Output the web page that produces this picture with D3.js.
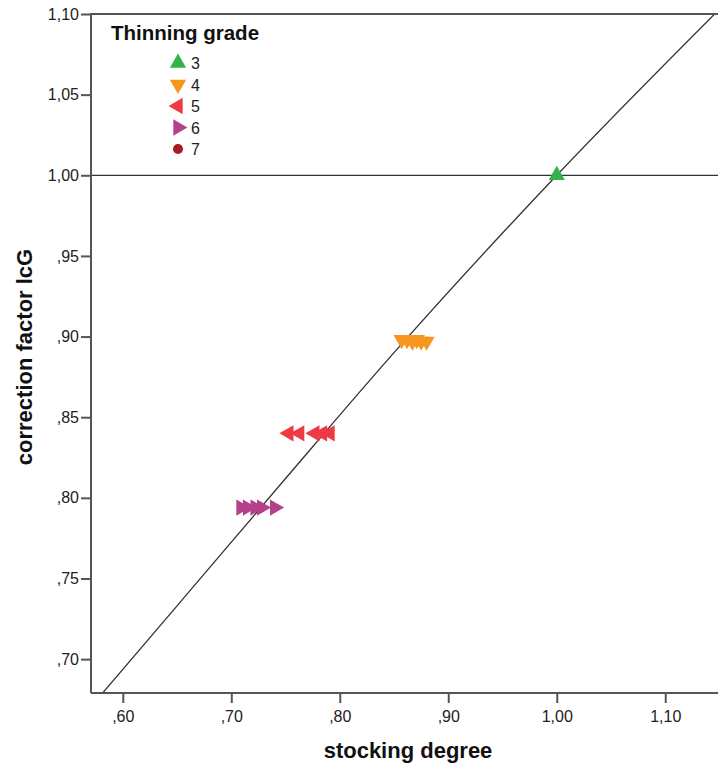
<!DOCTYPE html>
<html lang="en">
<head>
<meta charset="UTF-8">
<title>Thinning grade</title>
<script src="https://d3js.org/d3.v7.min.js"></script>
<style>
  body { margin: 0; background: #fff; }
  svg { display: block; font-family: "Liberation Sans", Arial, sans-serif; }
</style>
</head>
<body>
<div id="chart"></div>
<script>
// data
var grades = ["3", "4", "5", "6", "7"];
var gradeColors = ["#33b44a", "#f7961e", "#ee3a45", "#b6418b", "#a31c21"];
var gradeRotation = [0, 180, -90, 90, null]; // null -> circle

var grade3X = [1.000];
var grade3Y = [1.000];
var grade4X = [0.857, 0.862, 0.867, 0.871, 0.875, 0.880];
var grade4Y = [0.898, 0.898, 0.897, 0.898, 0.897, 0.897];
var grade5X = [0.753, 0.763, 0.777, 0.784, 0.791];
var grade5Y = [0.840, 0.840, 0.840, 0.840, 0.840];
var grade6X = [0.709, 0.715, 0.722, 0.728, 0.740];
var grade6Y = [0.794, 0.794, 0.794, 0.794, 0.794];

var xTicks = [0.60, 0.70, 0.80, 0.90, 1.00, 1.10];
var yTicks = [0.70, 0.75, 0.80, 0.85, 0.90, 0.95, 1.00, 1.05, 1.10];
// reference curve
var curveX = [0.570, 0.650, 0.750, 0.850, 1.000, 1.150];
var curveY = [0.670, 0.733, 0.812, 0.890, 1.000, 1.103];
var refHorizontal = 1.00;

var width = 718, height = 765;

var svg = d3.select("#chart").append("svg")
    .attr("width", width)
    .attr("height", height);

var x = d3.scaleLinear().domain([0.5707, 1.15]).range([91, 719.5]);
var y = d3.scaleLinear().domain([0.679, 1.10]).range([693, 14]);

// SPSS style numbers: comma decimal, no leading zero
function fmt(v) {
  var s = d3.format(".2f")(v).replace(".", ",");
  return s.charAt(0) === "0" ? s.slice(1) : s;
}

svg.append("clipPath").attr("id", "plotclip")
  .append("rect")
    .attr("x", x.range()[0]).attr("y", y.range()[1])
    .attr("width", x.range()[1] - x.range()[0])
    .attr("height", y.range()[0] - y.range()[1]);

// reference lines
var plot = svg.append("g").attr("clip-path", "url(#plotclip)");
plot.append("line")
    .attr("x1", x.range()[0]).attr("x2", x.range()[1])
    .attr("y1", y(refHorizontal)).attr("y2", y(refHorizontal))
    .attr("stroke", "#333").attr("stroke-width", 1.3);

var line = d3.line()
    .x(function(d, i) { return x(curveX[i]); })
    .y(function(d, i) { return y(curveY[i]); })
    .curve(d3.curveMonotoneX);
plot.append("path")
    .attr("d", line(curveX))
    .attr("fill", "none")
    .attr("stroke", "#333").attr("stroke-width", 1.3);

// axes
var yAxis = svg.append("g")
    .attr("transform", "translate(" + x.range()[0] + ",0)")
    .call(d3.axisLeft(y).tickValues(yTicks).tickFormat(fmt).tickSize(10).tickPadding(2));
var xAxis = svg.append("g")
    .attr("transform", "translate(0," + y.range()[0] + ")")
    .call(d3.axisBottom(x).tickValues(xTicks).tickFormat(fmt).tickSize(10).tickPadding(8));

[xAxis, yAxis].forEach(function(a) {
  a.select(".domain").attr("stroke", "#555").attr("stroke-width", 2);
  a.selectAll(".tick line").attr("stroke", "#555").attr("stroke-width", 2);
  a.selectAll(".tick text").attr("fill", "#222").style("font-size", "16px")
      .style("font-family", "'Liberation Sans', Arial, sans-serif");
});
xAxis.select(".domain").attr("d", "M" + x.range()[0] + ",0H" + x.range()[1]);
yAxis.select(".domain").attr("d", "M0," + y.range()[0] + "V" + y.range()[1]);

// top frame
svg.append("line")
    .attr("x1", x.range()[0] - 1).attr("x2", x.range()[1])
    .attr("y1", y.range()[1]).attr("y2", y.range()[1])
    .attr("stroke", "#555").attr("stroke-width", 2);

// points
var series = [
  { g: 0, xs: grade3X, ys: grade3Y },
  { g: 1, xs: grade4X, ys: grade4Y },
  { g: 2, xs: grade5X, ys: grade5Y },
  { g: 3, xs: grade6X, ys: grade6Y }
];
var tri = d3.symbol().type(d3.symbolTriangle).size(115);

function marker(sel, g) {
  if (gradeRotation[g] === null) {
    sel.append("circle").attr("r", 5).attr("fill", gradeColors[g]);
  } else {
    sel.append("path").attr("d", tri)
        .attr("transform", "rotate(" + gradeRotation[g] + ")")
        .attr("fill", gradeColors[g]);
  }
}

series.forEach(function(s) {
  s.xs.forEach(function(v, i) {
    var m = plot.append("g")
        .attr("transform", "translate(" + x(v) + "," + y(s.ys[i]) + ")");
    marker(m, s.g);
  });
});

// legend
var legend = svg.append("g");
legend.append("text")
    .attr("x", 111).attr("y", 40)
    .style("font-size", "20.5px").style("font-weight", "bold")
    .attr("fill", "#111")
    .text("Thinning grade");
grades.forEach(function(gr, i) {
  var row = legend.append("g").attr("transform", "translate(178," + (63 + i * 21.5) + ")");
  marker(row, i);
  row.append("text").attr("x", 13).attr("y", 6)
      .style("font-size", "16px").attr("fill", "#222").text(gr);
});

// axis titles
svg.append("text")
    .attr("x", 408).attr("y", 758)
    .attr("text-anchor", "middle")
    .style("font-size", "22px").style("font-weight", "bold")
    .attr("fill", "#111")
    .text("stocking degree");
svg.append("text")
    .attr("transform", "translate(32,357) rotate(-90)")
    .attr("text-anchor", "middle")
    .style("font-size", "22px").style("font-weight", "bold")
    .attr("fill", "#111")
    .text("correction factor lcG");
</script>
</body>
</html>
